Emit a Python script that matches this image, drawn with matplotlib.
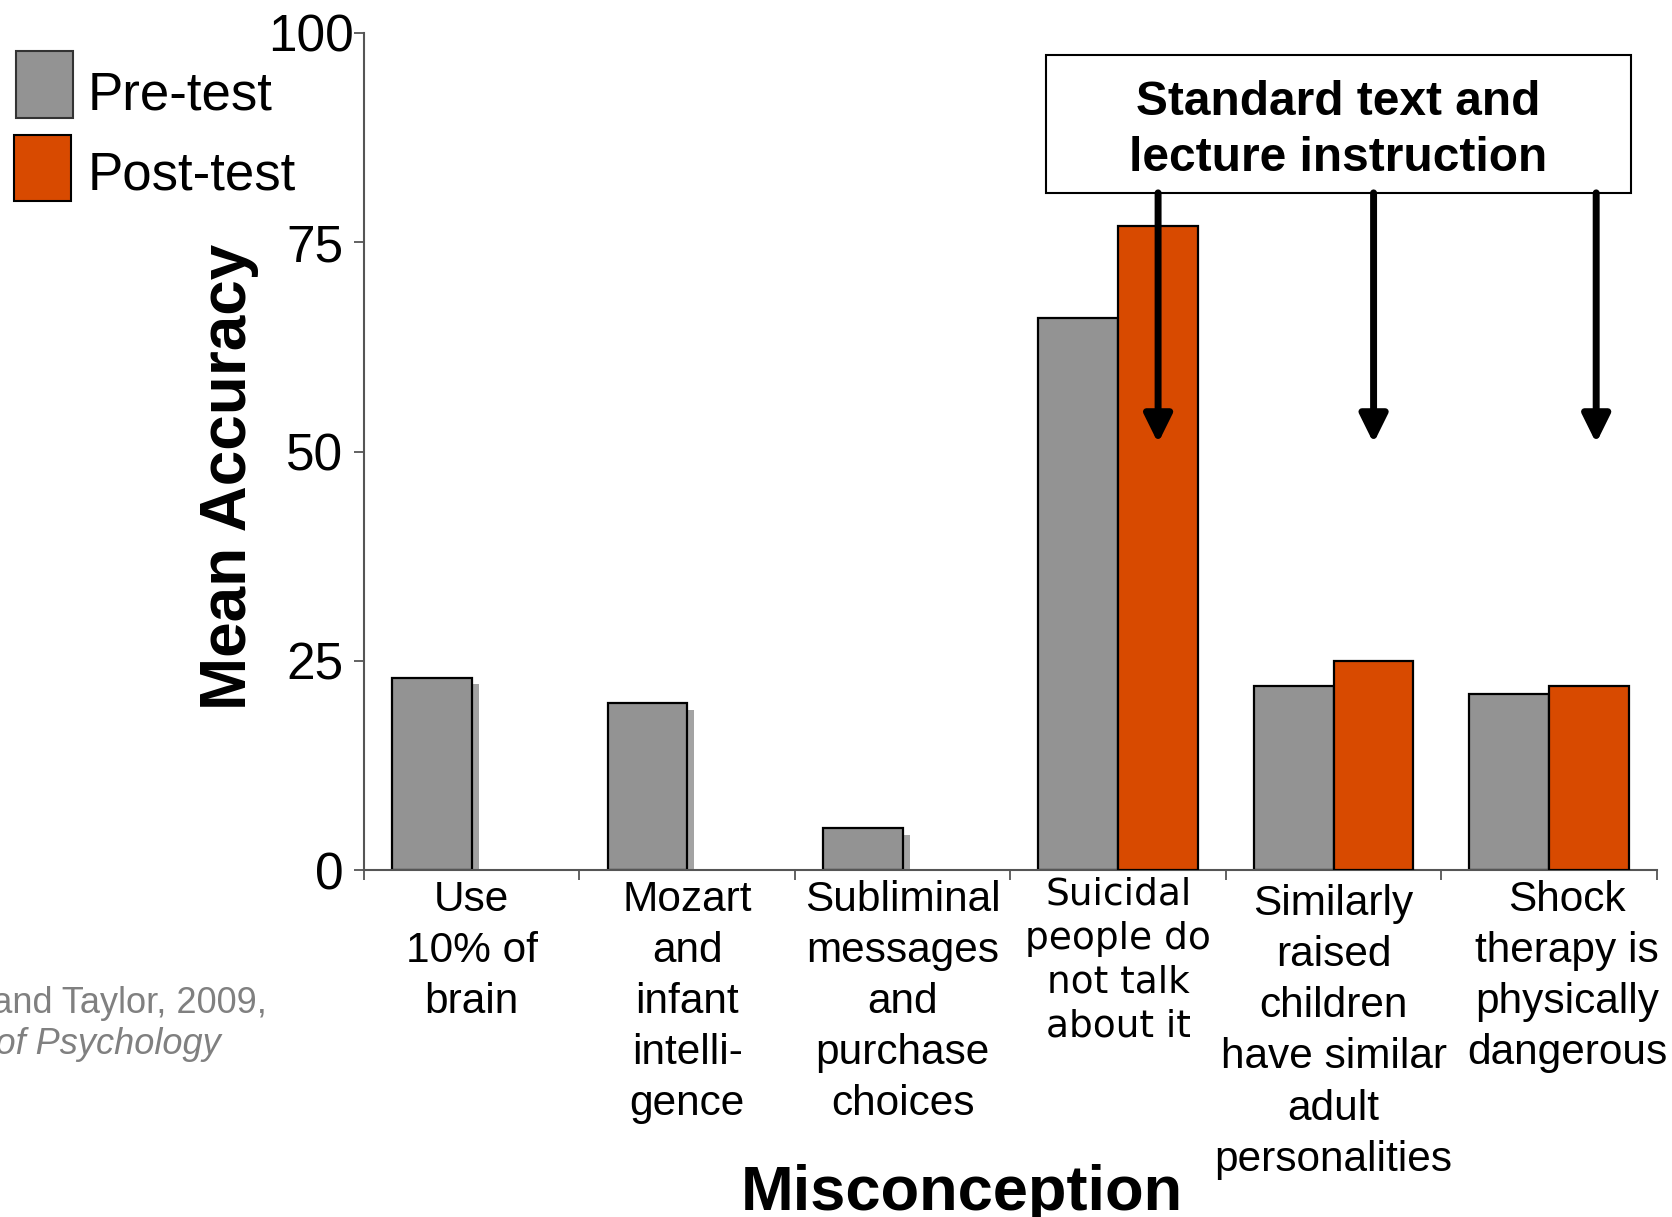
import numpy as np
import matplotlib.pyplot as plt
from matplotlib import patheffects
from matplotlib.patches import Rectangle

# misconception categories and mean accuracy scores
categories = [
    "Use\n10% of\nbrain",
    "Mozart\nand\ninfant\nintelli-\ngence",
    "Subliminal\nmessages\nand\npurchase\nchoices",
    "Suicidal\npeople do\nnot talk\nabout it",
    "Similarly\nraised\nchildren\nhave similar\nadult\npersonalities",
    "Shock\ntherapy is\nphysically\ndangerous",
]
pre_test = [23, 20, 5, 66, 22, 21]
post_test = [None, None, None, 77, 25, 22]   # post-test only reported for the last three
instructed = [3, 4, 5]                        # items covered by standard instruction
arrow_tip = 51
y_ticks = [0, 25, 50, 75, 100]
legend_labels = ["Pre-test", "Post-test"]

PRE_COLOR = "#939393"
POST_COLOR = "#D84A00"
SHADOW = "#a3a3a3"
WIDTH = 0.37

plt.rcParams["font.family"] = ["Liberation Sans", "DejaVu Sans"]

W, H = 1672, 1217
fig = plt.figure(figsize=(W / 100, H / 100), dpi=100)
ax = fig.add_axes([0.2177, 0.2851, 0.7733, 0.6878])

x = np.arange(len(categories))
shadow = [patheffects.SimplePatchShadow(offset=(5, -5), shadow_rgbFace=SHADOW, alpha=1.0),
          patheffects.Normal()]
pre_bars = ax.bar(x - WIDTH / 2, pre_test, WIDTH, color=PRE_COLOR,
                  edgecolor="black", linewidth=1.6, zorder=2)
for b in pre_bars:
    b.set_path_effects(shadow)

post_x = [i + WIDTH / 2 for i, v in zip(x, post_test) if v is not None]
post_v = [v for v in post_test if v is not None]
ax.bar(post_x, post_v, WIDTH, color=POST_COLOR, edgecolor="black",
       linewidth=1.6, zorder=3)

ax.set_xlim(-0.5, len(categories) - 0.5)
ax.set_ylim(0, 100)
ax.set_yticks(y_ticks)
ax.set_yticklabels([])
ax.tick_params(axis="y", length=7, width=1.3, color="#555555")
ax.set_xticks(np.arange(-0.5, len(categories)))
ax.set_xticklabels([])
ax.tick_params(axis="x", length=7, width=1.3, color="#555555")
for s in ["top", "right"]:
    ax.spines[s].set_visible(False)
for s in ["left", "bottom"]:
    ax.spines[s].set_color("#555555")
    ax.spines[s].set_linewidth(1.5)

# y tick labels, the top one sits closer to the axis
for v in y_ticks:
    dx = -7.5 if v == 100 else -15
    ax.annotate(str(v), xy=(0, v), xycoords=("axes fraction", "data"),
                xytext=(dx, 0), textcoords="offset points",
                ha="right", va="center_baseline", fontsize=37,
                annotation_clip=False)

# category labels under each pair of bars
label_dx = [0, 0, 0, 0, 0, 13]
label_pad = [-7, -7, -7, -5, -10, -7]
for i, (lab, dx, pad) in enumerate(zip(categories, label_dx, label_pad)):
    if i == 3:
        fam, size, ls = ["DejaVu Sans"], 27, 1.28
    else:
        fam, size, ls = ["Liberation Sans"], 30.5, 1.36
    ax.annotate(lab, xy=(i, 0), xycoords=("data", "axes fraction"),
                xytext=(dx, pad), textcoords="offset points",
                ha="center", va="top", multialignment="center",
                fontsize=size, family=fam, linespacing=ls,
                annotation_clip=False)

# instruction callout box with arrows down to the instructed items
box_x0, box_x1, box_y0, box_y1 = 0.5275, 0.980, 0.809, 0.974
ax.add_patch(Rectangle((box_x0, box_y0), box_x1 - box_x0, box_y1 - box_y0,
                       transform=ax.transAxes, facecolor="white",
                       edgecolor="black", linewidth=1.5, zorder=5, clip_on=False))
ax.text((box_x0 + box_x1) / 2, (box_y0 + box_y1) / 2 - 0.008,
        "Standard text and\nlecture instruction", transform=ax.transAxes,
        ha="center", va="center", fontsize=34.5, fontweight="bold",
        linespacing=1.32, zorder=6)
arrow_dx = [0, 0, 0.033]
for i, dx in zip(instructed, arrow_dx):
    xa = i + WIDTH / 2 + dx
    ax.annotate("", xy=(xa, arrow_tip), xycoords="data",
                xytext=(xa, box_y0), textcoords=("data", "axes fraction"),
                arrowprops=dict(arrowstyle="-|>,head_length=0.85,head_width=0.42",
                                mutation_scale=20, lw=5, color="black",
                                shrinkA=0, shrinkB=0),
                zorder=6)

# legend keys drawn in figure pixels
legend_colors = [PRE_COLOR, POST_COLOR]
legend_edges = ["#333333", "black"]
key_boxes = [(16, 51, 57, 67), (14, 135, 57, 66)]
text_y = [96, 175]
for lab, fc, ec, (kx, ky, kw, kh), ty in zip(legend_labels, legend_colors,
                                             legend_edges, key_boxes, text_y):
    fig.add_artist(Rectangle((kx / W, 1 - (ky + kh) / H), kw / W, kh / H,
                             transform=fig.transFigure, facecolor=fc,
                             edgecolor=ec, linewidth=1.5))
    fig.text(88 / W, 1 - ty / H, lab, ha="left", va="center", fontsize=38)

fig.text(0.137, 0.608, "Mean Accuracy", rotation=90, ha="center", va="center",
         fontsize=46, fontweight="bold")
fig.text(0.5754, 0.006, "Misconception", ha="center", va="baseline",
         fontsize=45.5, fontweight="bold")

# source note
fig.text(0.1597, 1 - 1013 / H, "Kowalski and Taylor, 2009,", ha="right",
         va="baseline", fontsize=26, color="#808080")
fig.text(0.132, 1 - 1054 / H, "Teaching of Psychology", ha="right",
         va="baseline", fontsize=26, color="#808080", style="italic")

fig.savefig("out.png", dpi=100)
